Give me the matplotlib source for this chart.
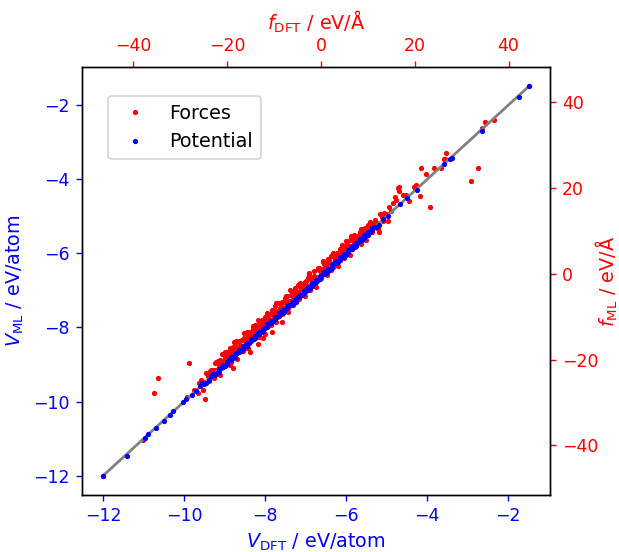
import matplotlib.pyplot as plt

# potential, eV/atom : isolated points along the diagonal
v_dft_iso = [-12.0, -11.42, -10.96, -10.89, -10.69, -10.49, -10.35, -10.27, -10.02, -9.95, -9.80,
             -4.96, -4.67, -4.49, -4.25, -3.58, -3.43, -3.38, -2.64, -1.73, -1.49]
v_ml_iso = [-12.0, -11.46, -10.98, -10.87, -10.71, -10.52, -10.36, -10.25, -10.01, -9.92, -9.82,
            -4.99, -4.67, -4.51, -4.29, -3.59, -3.46, -3.43, -2.70, -1.78, -1.49]

# potential : dense part
v_dft_a = [-9.70, -9.60, -9.50, -9.40, -9.30, -9.20, -9.10, -9.00, -8.90, -8.80,
           -8.70, -8.60, -8.50, -8.40, -8.30, -8.20, -8.10, -8.00, -7.90, -7.80,
           -7.70, -7.60, -7.50, -7.40, -7.30, -7.20, -7.10, -7.00, -6.90, -6.80,
           -6.70, -6.60, -6.50, -6.40, -6.30, -6.20, -6.10, -6.00, -5.90, -5.80,
           -5.70, -5.60, -5.50, -5.40, -5.30, -5.20, -5.10]
v_ml_a = [-9.72, -9.58, -9.53, -9.41, -9.27, -9.23, -9.09, -9.03, -8.88, -8.82,
          -8.69, -8.63, -8.48, -8.42, -8.31, -8.17, -8.13, -8.01, -7.87, -7.83,
          -7.71, -7.57, -7.53, -7.39, -7.33, -7.18, -7.12, -6.98, -6.93, -6.79,
          -6.72, -6.57, -6.53, -6.41, -6.27, -6.23, -6.09, -6.03, -5.88, -5.82,
          -5.69, -5.63, -5.48, -5.42, -5.29, -5.23, -5.08]
v_dft_b = [-9.15, -9.05, -8.95, -8.85, -8.75, -8.65, -8.55, -8.45, -8.35, -8.25,
           -8.15, -8.05, -7.95, -7.85, -7.75, -7.65, -7.55, -7.45, -7.35, -7.25,
           -7.15, -7.05, -6.95, -6.85, -6.75, -6.65, -6.55, -6.45, -6.35, -6.25,
           -6.15, -6.05, -5.95, -5.85, -5.75, -5.65, -5.55, -5.45, -5.35]
v_ml_b = [-9.12, -9.08, -8.93, -8.88, -8.72, -8.66, -8.58, -8.43, -8.37, -8.22,
          -8.18, -8.03, -7.98, -7.82, -7.77, -7.68, -7.52, -7.47, -7.38, -7.22,
          -7.16, -7.08, -6.92, -6.87, -6.78, -6.62, -6.56, -6.48, -6.32, -6.27,
          -6.18, -6.02, -5.97, -5.88, -5.72, -5.67, -5.58, -5.42, -5.37]
v_dft_c = [-9.55, -9.45, -9.35, -9.25, -9.15, -9.05, -8.95, -8.85, -8.75, -8.65, -8.55,
           -8.45, -8.35, -8.25, -8.15, -8.05, -7.95, -7.85, -7.75, -7.65, -7.55, -7.45,
           -7.35, -7.25, -7.15, -7.05, -6.95, -6.85, -6.75, -6.65, -6.55, -6.45, -6.35,
           -6.25, -6.15, -6.05, -5.95, -5.85, -5.75, -5.65, -5.55, -5.45, -5.35, -5.25]
v_ml_c = [-9.50, -9.50, -9.31, -9.29, -9.20, -9.01, -8.99, -8.81, -8.80, -8.60, -8.51,
          -8.50, -8.30, -8.29, -8.11, -8.10, -7.90, -7.89, -7.71, -7.61, -7.60, -7.41,
          -7.31, -7.30, -7.11, -7.01, -7.00, -6.81, -6.71, -6.70, -6.51, -6.41, -6.40,
          -6.21, -6.11, -6.10, -5.91, -5.81, -5.80, -5.61, -5.51, -5.50, -5.31, -5.29]

# forces, eV/A : outliers and ends
f_dft_iso = [-46.4, 44.3, -37.9, -35.6, -34.8, -28.6, -28.2, -24.8, -23.9, -23.1, -22.2, -21.1,
             -19.4, -18.8, -18.8, -15.2, -15.2, -13.5, -12.4, -10.5, -8.4, 12.3, 14.2, 15.4,
             15.7, 16.1, 16.5, 16.7, 16.7, 17.4, 18.2, 18.8, 19.9, 20.3, 21.2, 21.4, 22.5,
             23.3, 24.2, 25.7, 26.3, 26.5, 26.7, 32.0, 33.5, 34.4, 35.0, 36.9]
f_ml_iso = [-47.0, 43.6, -38.7, -27.7, -24.2, -28.7, -20.7, -29.1, -23.3, -23.1, -20.7, -20.3,
            -21.2, -21.9, -17.7, -18.2, -13.5, -16.3, -15.0, -13.5, -11.2, 9.8, 12.3, 16.5,
            17.9, 17.2, 20.0, 19.3, 20.3, 18.4, 18.4, 17.0, 20.3, 20.7, 18.2, 24.5, 23.1,
            15.6, 24.7, 24.7, 26.6, 26.8, 28.0, 21.7, 24.7, 34.0, 35.4, 35.9]

# forces : dense band
f_dft_a = [-27, -26, -25, -24, -23, -22, -21, -20, -19, -18, -17, -16, -15, -14, -13,
           -12, -11, -10, -9, -8, -7, -6, -5, -4, -3, -2, -1, 0, 1, 2, 3, 4, 5, 6, 7,
           8, 9, 10, 11, 12, 13, 14, 15]
f_ml_a = [-27.1, -25.5, -25.4, -23.8, -22.4, -22.2, -20.7, -20.5, -18.6, -18.0, -17.3, -15.4,
          -14.9, -14.6, -12.7, -12.1, -10.5, -10.3, -8.8, -8.4, -6.6, -6.0, -5.2, -3.4, -3.5,
          -1.9, -0.7, -0.3, 1.5, 1.9, 3.2, 3.6, 5.4, 6.0, 6.8, 8.3, 8.5, 10.1, 11.5, 11.7,
          13.2, 13.9, 14.6]
f_dft_b = [-25.5, -24.5, -23.5, -22.5, -21.5, -20.5, -19.5, -18.5, -17.5, -16.5, -15.5,
           -14.5, -13.5, -12.5, -11.5, -10.5, -9.5, -8.5, -7.5, -6.5, -5.5, -4.5, -3.5,
           -2.5, -1.5, -0.5, 0.5, 1.5, 2.5, 3.5, 4.5, 5.5, 6.5, 7.5, 8.5, 9.5, 10.5,
           11.5, 12.5, 13.5, 14.5]
f_ml_b = [-24.7, -23.1, -22.5, -20.7, -20.2, -18.3, -17.9, -16.0, -15.6, -13.8, -14.1,
          -12.2, -10.7, -10.8, -9.1, -8.5, -6.8, -7.0, -5.3, -3.9, -3.7, -2.1, -1.9,
          0.2, 0.6, 0.8, 3.0, 3.4, 4.8, 4.9, 6.6, 7.2, 8.8, 8.7, 10.3, 10.6, 12.1,
          12.4, 13.8, 14.2, 15.5]
f_dft_c = [-26.3, -25.1, -23.9, -22.7, -21.5, -20.3, -19.1, -17.9, -16.7, -15.5, -14.3,
           -13.1, -11.9, -10.7, -9.5, -8.3, -7.1, -5.9, -4.7, -3.5, -2.3, -1.1, 0.1,
           1.3, 2.5, 3.7, 4.9, 6.1, 7.3, 8.5, 9.7, 10.9, 12.1, 13.3]
f_ml_c = [-27.7, -27.0, -25.0, -24.4, -23.6, -21.3, -20.6, -19.9, -17.9, -17.3, -15.2,
          -14.7, -14.1, -12.0, -11.2, -9.3, -9.0, -7.3, -5.8, -5.3, -3.8, -3.2, -1.1,
          -0.3, 1.6, 1.7, 3.6, 4.4, 6.2, 7.0, 7.9, 9.7, 10.5, 12.3]
f_dft_d = [-23.6, -22.8, -22.0, -21.2, -20.4, -19.6, -18.8, -18.0, -17.2, -16.4, -15.6,
           -14.8, -14.0, -13.2, -12.4, -11.6, -10.8, -10.0, -9.2, -8.4, -7.6, -6.8,
           -6.0, -5.2, -4.4, -3.6, -2.8, -2.0, -1.2, -0.4, 0.4, 1.2, 2.0, 2.8, 3.6,
           4.4, 5.2, 6.0, 6.8, 7.6, 8.4, 9.2, 10.0]
f_ml_d = [-22.6, -22.5, -20.4, -20.5, -19.1, -19.4, -17.0, -17.1, -16.7, -15.0, -14.5,
          -14.5, -12.3, -12.4, -11.2, -11.2, -9.3, -9.0, -8.6, -6.6, -6.7, -6.6,
          -4.6, -4.5, -3.1, -3.1, -1.2, -0.9, -0.9, 1.3, 1.2, 2.4, 2.4, 4.3, 4.5,
          5.0, 6.5, 6.2, 7.8, 8.3, 9.8, 9.7, 10.9]
f_dft_e = [-20.3, -19.6, -18.9, -18.2, -17.5, -16.8, -16.1, -15.4, -14.7, -14.0, -13.3,
           -12.6, -11.9, -11.2, -10.5, -9.8, -9.1, -8.4, -7.7, -7.0, -6.3, -5.6, -4.9,
           -4.2, -3.5, -2.8, -2.1, -1.4, -0.7, 0.0, 0.7, 1.4, 2.1, 2.8, 3.5, 4.2, 4.9,
           5.6, 6.3, 7.0, 7.7]
f_ml_e = [-18.3, -20.4, -18.3, -16.0, -17.7, -15.5, -17.2, -13.7, -14.4, -11.9, -13.8,
          -11.7, -10.1, -12.1, -9.3, -7.5, -9.1, -7.7, -5.7, -8.0, -4.9, -5.2, -2.7,
          -4.5, -2.5, -0.9, -2.9, -0.6, 1.4, -0.1, 2.2, 1.9, 4.1, 1.9, 4.6, 6.0, 5.0,
          6.9, 7.9, 6.6, 8.6]
f_dft_f = [-22.3, -21.7, -21.1, -20.5, -19.9, -19.3, -18.7, -18.1, -17.5, -16.9, -16.3,
           -15.7, -15.1, -14.5, -13.9, -13.3, -12.7, -12.1, -11.5, -10.9, -10.3, -9.7,
           -9.1, -8.5, -7.9, -7.3, -6.7, -6.1, -5.5, -4.9, -4.3, -3.7, -3.1, -2.5, -1.9,
           -1.3, -0.7, -0.1, 0.5, 1.1, 1.7, 2.3, 2.9, 3.5, 4.1, 4.7, 5.3, 5.9, 6.5, 7.1,
           7.7, 8.3, 8.9, 9.5, 10.1]
f_ml_f = [-20.5, -21.2, -18.8, -20.4, -18.7, -17.3, -18.0, -15.7, -17.2, -15.4, -15.3,
          -13.5, -14.9, -12.8, -13.1, -11.2, -12.3, -10.8, -9.6, -10.9, -8.7, -8.8,
          -6.8, -7.9, -6.5, -5.3, -6.4, -5.0, -3.3, -4.2, -2.5, -3.3, -1.6, -0.4, -1.0,
          -1.1, 1.0, 1.1, 2.8, 1.6, 3.1, 4.2, 3.7, 3.6, 5.7, 5.7, 7.5, 6.5, 7.8, 8.9,
          8.1, 9.4, 10.4, 10.2, 11.3]
f_dft_g = [-24.9, -24.0, -23.1, -22.2, -21.3, -20.4, -19.5, -18.6, -17.7, -16.8, -15.9,
           -15.0, -14.1, -13.2, -12.3, -11.4, -10.5, -9.6, -8.7, -7.8, -6.9, -6.0, -5.1,
           -4.2, -3.3, -2.4, -1.5, -0.6, 0.3, 1.2, 2.1, 3.0, 3.9, 4.8, 5.7, 6.6, 7.5,
           8.4, 9.3, 10.2, 11.1, 12.0]
f_ml_g = [-25.3, -25.1, -22.8, -22.9, -21.3, -19.8, -20.5, -18.8, -17.3, -18.0, -15.8,
          -15.5, -13.6, -14.1, -12.4, -11.1, -11.3, -9.9, -8.1, -8.9, -6.7, -6.6, -5.1,
          -3.7, -4.3, -2.6, -1.2, -1.3, 0.4, 1.6, 0.9, 2.7, 4.1, 4.3, 6.2, 5.7, 7.4,
          8.7, 8.5, 10.2, 10.7, 11.0]

fig = plt.figure(figsize=(619 / 125, 552 / 125), dpi=125)
rect = [82 / 619, 57 / 552, 468 / 619, 428 / 552]

# forces on top / right axes
axf = fig.add_axes(rect)
forces = None
for fx, fy in [(f_dft_a, f_ml_a), (f_dft_b, f_ml_b), (f_dft_c, f_ml_c), (f_dft_d, f_ml_d),
               (f_dft_e, f_ml_e), (f_dft_f, f_ml_f), (f_dft_g, f_ml_g), (f_dft_iso, f_ml_iso)]:
    h, = axf.plot(fx, fy, 'r.', ms=4)
    if forces is None:
        forces = h
axf.xaxis.tick_top()
axf.xaxis.set_label_position('top')
axf.yaxis.tick_right()
axf.yaxis.set_label_position('right')
axf.tick_params(colors='r')
axf.set_xlabel(r'$f_{\mathrm{DFT}}$ / eV/Å', color='r', fontsize=11)
axf.set_ylabel(r'$f_{\mathrm{ML}}$ / eV/Å', color='r', fontsize=11)
axf.yaxis.set_label_coords(1.094, 0.5)

# potential on bottom / left axes
axv = fig.add_axes(rect)
axv.patch.set_visible(False)
lo = min(v_dft_iso)
hi = max(v_dft_iso)
axv.plot([lo, hi], [lo, hi], color='gray', lw=1.6, zorder=1)
potential = None
for vx, vy in [(v_dft_a, v_ml_a), (v_dft_b, v_ml_b), (v_dft_c, v_ml_c), (v_dft_iso, v_ml_iso)]:
    h, = axv.plot(vx, vy, 'b.', ms=4, zorder=2)
    if potential is None:
        potential = h
axv.tick_params(colors='b')
axv.set_xlabel(r'$V_{\mathrm{DFT}}$ / eV/atom', color='b', fontsize=11)
axv.set_ylabel(r'$V_{\mathrm{ML}}$ / eV/atom', color='b', fontsize=11)

axv.legend([forces, potential], ['Forces', 'Potential'], loc='upper left',
           bbox_to_anchor=(0.036, 0.954), fontsize=11)

fig.savefig('out.png', dpi=125)
